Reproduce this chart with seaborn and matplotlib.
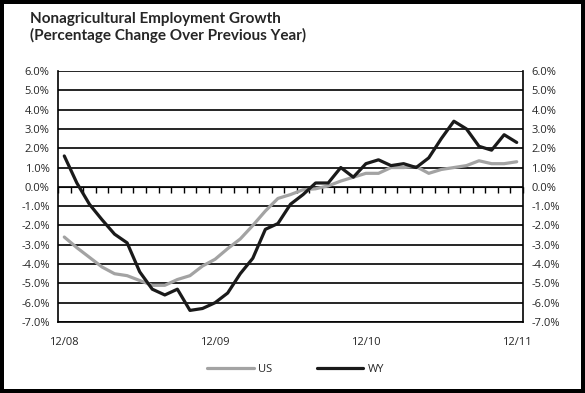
import numpy as np
import pandas as pd
import matplotlib
matplotlib.use("Agg")
import matplotlib.pyplot as plt
import seaborn as sns

# Monthly values, 12/08 .. 12/11 (percent change over previous year)
MONTHS = pd.period_range("2008-12", "2011-12", freq="M").strftime("%m/%y").tolist()
US = [-2.6, -3.15, -3.65, -4.15, -4.5, -4.6, -4.85, -5.1, -5.1, -4.8,
      -4.6, -4.1, -3.75, -3.2, -2.7, -2.0, -1.25, -0.6, -0.4, -0.15,
      -0.1, 0.05, 0.3, 0.5, 0.7, 0.7, 1.0, 1.0, 1.05, 0.7,
      0.9, 1.0, 1.1, 1.35, 1.2, 1.2, 1.3]
WY = [1.6, 0.2, -0.9, -1.7, -2.45, -2.9, -4.4, -5.3, -5.6, -5.3,
      -6.4, -6.3, -6.0, -5.5, -4.5, -3.7, -2.2, -1.9, -0.9, -0.4,
      0.2, 0.2, 1.0, 0.5, 1.2, 1.4, 1.1, 1.2, 1.0, 1.5,
      2.5, 3.4, 3.0, 2.1, 1.9, 2.7, 2.3]
X_LABELS = ["12/08", "12/09", "12/10", "12/11"]
Y_TICKS = np.arange(-7, 7, 1)

sns.set_style("white")
plt.rcParams["font.family"] = ["Open Sans", "DejaVu Sans"]

df = pd.DataFrame({"idx": range(len(MONTHS)), "US": US, "WY": WY})
long_df = df.melt(id_vars="idx", var_name="series", value_name="pct")

fig = plt.figure(figsize=(5.85, 3.93), dpi=100, edgecolor="black", linewidth=4.5)
ax = fig.add_axes([58 / 585, 1 - 322 / 393, 465 / 585, 251 / 393])

sns.lineplot(data=long_df, x="idx", y="pct", hue="series",
             palette={"US": "#a3a3a3", "WY": "#1a1a1a"},
             linewidth=2.3, ax=ax, legend=True)

ax.set_xlim(-0.5, len(MONTHS) - 0.5)
ax.set_ylim(-7, 6)
ax.set_yticks(Y_TICKS)
ax.set_yticklabels([f"{v:.1f}%" for v in Y_TICKS], fontsize=8)
ax.yaxis.grid(True, color="black", linewidth=1.2)
ax.tick_params(axis="y", length=0, pad=6, labelright=True, right=False)
ax.set_xticks([0, 12, 24, 36])
ax.set_xticklabels(X_LABELS, fontsize=8)
ax.tick_params(axis="x", length=0, pad=11)
ax.set_xlabel("")
ax.set_ylabel("")
for side in ["left", "right", "bottom"]:
    ax.spines[side].set_color("black")
    ax.spines[side].set_linewidth(1.2)
ax.spines["top"].set_visible(False)

# category axis crossing at zero, with ticks between months
zero_axis = ax.secondary_xaxis(7 / 13)
zero_axis.set_xticks(np.arange(-0.5, len(MONTHS), 1))
zero_axis.tick_params(axis="x", direction="out", length=4, width=1,
                      color="black", labelbottom=False, labeltop=False,
                      bottom=True, top=False)
zero_axis.spines["bottom"].set_linewidth(1.5)
zero_axis.spines["bottom"].set_color("black")

handles, labels = ax.get_legend_handles_labels()
ax.legend(handles, labels, loc="center", bbox_to_anchor=(0.511, -0.19),
          ncol=2, frameon=False, fontsize=8, handlelength=4.2,
          columnspacing=4.0, handletextpad=0.4)

fig.text(30 / 585, 1 - 12 / 393,
         "Nonagricultural Employment Growth\n(Percentage Change Over Previous Year)",
         ha="left", va="top", fontsize=11, fontweight="bold", linespacing=1.2,
         family=["Lato", "DejaVu Sans"])

fig.savefig("out.png", dpi=100, edgecolor=fig.get_edgecolor())
